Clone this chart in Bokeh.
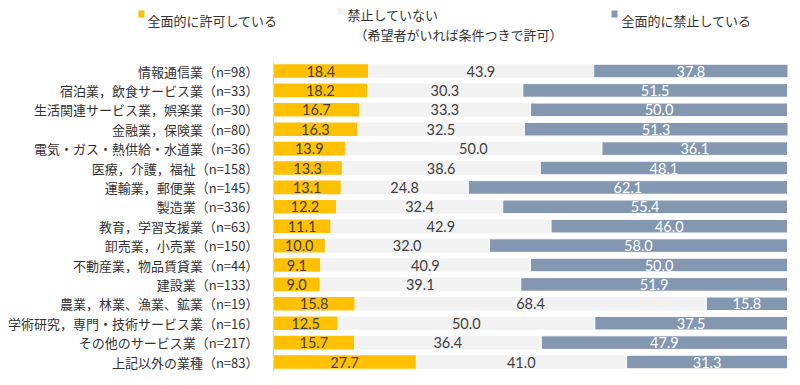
from bokeh.plotting import figure
from bokeh.models import ColumnDataSource, Range1d
from bokeh.core.properties import value
from bokeh.embed import file_html
from bokeh.resources import INLINE

categories = [
    "情報通信業（n=98）",
    "宿泊業，飲食サービス業（n=33）",
    "生活関連サービス業，娯楽業（n=30）",
    "金融業，保険業（n=80）",
    "電気・ガス・熱供給・水道業（n=36）",
    "医療，介護，福祉（n=158）",
    "運輸業，郵便業（n=145）",
    "製造業（n=336）",
    "教育，学習支援業（n=63）",
    "卸売業，小売業（n=150）",
    "不動産業，物品賃貸業（n=44）",
    "建設業（n=133）",
    "農業，林業、漁業、鉱業（n=19）",
    "学術研究，専門・技術サービス業（n=16）",
    "その他のサービス業（n=217）",
    "上記以外の業種（n=83）",
]
allowed = [18.4, 18.2, 16.7, 16.3, 13.9, 13.3, 13.1, 12.2, 11.1, 10.0, 9.1, 9.0, 15.8, 12.5, 15.7, 27.7]
conditional = [43.9, 30.3, 33.3, 32.5, 50.0, 38.6, 24.8, 32.4, 42.9, 32.0, 40.9, 39.1, 68.4, 50.0, 36.4, 41.0]
prohibited = [37.8, 51.5, 50.0, 51.3, 36.1, 48.1, 62.1, 55.4, 46.0, 58.0, 50.0, 51.9, 15.8, 37.5, 47.9, 31.3]

series_names = ["全面的に許可している", "禁止していない", "全面的に禁止している"]
series_sub = "（希望者がいれば条件つきで許可）"
colors = ["#FFC000", "#F2F2F2", "#8497B0"]
label_colors = ["#404040", "#404040", "#FFFFFF"]

FONT = value("Noto Sans CJK JP")

W, H = 800, 385
px_per_pct = 5.14
x0_page = 273
x_start = (0 - x0_page) / px_per_pct
x_end = x_start + W / px_per_pct
row_h = 19.4
y_first_page = 70.5
y_top = (0 - y_first_page) / row_h
y_bot = y_top + H / row_h

p = figure(width=W, height=H, output_backend="svg", toolbar_location=None,
           x_range=Range1d(x_start, x_end), y_range=Range1d(y_bot, y_top),
           min_border=0)
p.axis.visible = False
p.grid.visible = False
p.outline_line_color = None
p.background_fill_color = "white"

ys = list(range(len(categories)))
left1 = [0] * len(ys)
right1 = allowed
left2 = allowed
right2 = [a + c for a, c in zip(allowed, conditional)]
left3 = right2
right3 = [r + pr for r, pr in zip(right2, prohibited)]

segs = [(left1, right1, allowed), (left2, right2, conditional), (left3, right3, prohibited)]
for k, (l, r, v) in enumerate(segs):
    src = ColumnDataSource(dict(y=ys, left=l, right=r,
                                mid=[(a + b) / 2 for a, b in zip(l, r)],
                                lab=[f"{x:.1f}" for x in v]))
    p.hbar(y="y", left="left", right="right", height=0.7, source=src,
           fill_color=colors[k], line_color="white" if k == 2 else None, line_width=1)
    p.text(x="mid", y="y", text="lab", source=src, text_align="center",
           text_baseline="middle", text_font=value("Lato"), text_font_size="14.5px",
           text_color=label_colors[k])

# vertical axis line
p.segment(x0=[0], y0=[-0.45], x1=[0], y1=[15.5], line_color="#D9D9D9", line_width=1)

# category labels
csrc = ColumnDataSource(dict(x=[-15 / px_per_pct] * len(ys), y=ys, t=categories))
p.text(x="x", y="y", text="t", source=csrc, text_align="right", text_baseline="middle",
       text_font=FONT, text_font_size="13px", text_color="#333333")

# legend
def py(page_y):
    return (page_y - y_first_page) / row_h

def px(page_x):
    return (page_x - x0_page) / px_per_pct

leg_marker_x = [px(141), px(340), px(614)]
leg_marker_y = [py(13.5), py(10.5), py(13.5)]
p.rect(x=leg_marker_x, y=leg_marker_y, width=6 / px_per_pct, height=7 / row_h,
       fill_color=colors, line_color=None)
p.text(x=[px(147), px(347), px(621)], y=[py(20), py(14), py(20)],
       text=series_names, text_align="left", text_baseline="middle",
       text_font=FONT, text_font_size="13px", text_color="#333333")
p.text(x=[px(354)], y=[py(34)], text=[series_sub], text_align="left",
       text_baseline="middle", text_font=FONT, text_font_size="13px", text_color="#333333")

open("out.html", "w").write(file_html(p, INLINE))
